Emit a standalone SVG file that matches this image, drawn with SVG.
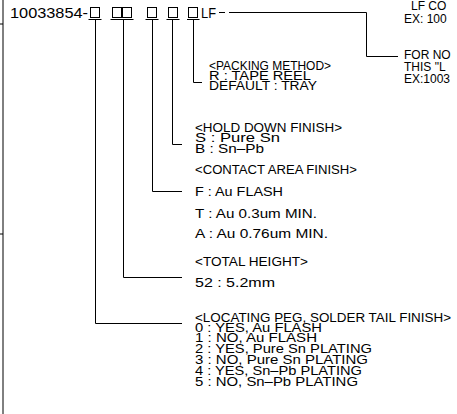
<svg xmlns="http://www.w3.org/2000/svg" width="457" height="414" viewBox="0 0 457 414">
<style>
.t{font-family:"Liberation Sans","DejaVu Sans",sans-serif;font-size:12px;fill:#000}
.big{font-size:14px}
.ln{stroke:#000;stroke-width:1;fill:none}
</style>
<rect width="457" height="414" fill="#fff"/>
<g id="frame">
<path class="ln" d="M3,0V414M0,24H3M0,234H3"/>
</g>
<g id="part-number">
<text class="t big" x="10" y="18" textLength="78" lengthAdjust="spacingAndGlyphs">10033854-</text>
<rect class="ln" x="90.5" y="7.5" width="9" height="10"/>
<rect class="ln" x="112.5" y="7.5" width="9" height="10"/>
<rect class="ln" x="122.5" y="7.5" width="9" height="10"/>
<rect class="ln" x="147.5" y="7.5" width="9" height="10"/>
<rect class="ln" x="168.5" y="7.5" width="9" height="10"/>
<rect class="ln" x="188.5" y="7.5" width="9" height="10"/>
<path class="ln" d="M88.5,19.5H101.5M110.5,19.5H133.5M145.5,19.5H158.5M166.5,19.5H179.5M187,19.5H199.5"/>
<text class="t big" x="201" y="18" textLength="15" lengthAdjust="spacingAndGlyphs">LF</text>
</g>
<g id="connectors">
<path class="ln" d="M219,12.5H225M229,12.5H366.5V56.5H398"/>
<path class="ln" d="M193.5,19.5V82.5H202"/>
<path class="ln" d="M172.5,19.5V144.5H182"/>
<path class="ln" d="M152.5,19.5V191.5H182"/>
<path class="ln" d="M123.5,19.5V277.5H182"/>
<path class="ln" d="M95.5,19.5V323.5H182"/>
</g>
<g id="lf-note">
<text class="t" x="411" y="9.5">LF  CO</text>
<text class="t" x="404" y="22.5">EX: 100</text>
<text class="t" x="404" y="59">FOR NO</text>
<text class="t" x="404" y="71">THIS "L</text>
<text class="t" x="404" y="83">EX:1003</text>
</g>
<g id="packing">
<text class="t" x="209" y="70" textLength="122" lengthAdjust="spacingAndGlyphs">&lt;PACKING METHOD&gt;</text>
<text class="t" x="209" y="80" textLength="102" lengthAdjust="spacingAndGlyphs">R : TAPE REEL</text>
<text class="t" x="209" y="90" textLength="108" lengthAdjust="spacingAndGlyphs">DEFAULT : TRAY</text>
</g>
<g id="hold-down">
<text class="t" x="195" y="132" textLength="147" lengthAdjust="spacingAndGlyphs">&lt;HOLD DOWN FINISH&gt;</text>
<text class="t" x="195" y="142" textLength="85" lengthAdjust="spacingAndGlyphs">S : Pure Sn</text>
<text class="t" x="195" y="153" textLength="69" lengthAdjust="spacingAndGlyphs">B : Sn–Pb</text>
</g>
<g id="contact">
<text class="t" x="195" y="174" textLength="162" lengthAdjust="spacingAndGlyphs">&lt;CONTACT AREA FINISH&gt;</text>
<text class="t" x="195" y="196" textLength="88" lengthAdjust="spacingAndGlyphs">F : Au FLASH</text>
<text class="t" x="195" y="218" textLength="122" lengthAdjust="spacingAndGlyphs">T : Au 0.3um MIN.</text>
<text class="t" x="195" y="238" textLength="133" lengthAdjust="spacingAndGlyphs">A : Au 0.76um MIN.</text>
</g>
<g id="height">
<text class="t" x="195" y="266" textLength="113" lengthAdjust="spacingAndGlyphs">&lt;TOTAL HEIGHT&gt;</text>
<text class="t" x="195" y="287" textLength="80" lengthAdjust="spacingAndGlyphs">52 : 5.2mm</text>
</g>
<g id="locating">
<text class="t" x="195" y="322" textLength="256" lengthAdjust="spacingAndGlyphs">&lt;LOCATING PEG, SOLDER TAIL FINISH&gt;</text>
<text class="t" x="195" y="332" textLength="127" lengthAdjust="spacingAndGlyphs">0 : YES, Au FLASH</text>
<text class="t" x="195" y="342" textLength="122" lengthAdjust="spacingAndGlyphs">1 : NO, Au FLASH</text>
<text class="t" x="195" y="353" textLength="177" lengthAdjust="spacingAndGlyphs">2 : YES, Pure Sn PLATING</text>
<text class="t" x="195" y="364" textLength="173" lengthAdjust="spacingAndGlyphs">3 : NO, Pure Sn PLATING</text>
<text class="t" x="195" y="375" textLength="167" lengthAdjust="spacingAndGlyphs">4 : YES, Sn–Pb PLATING</text>
<text class="t" x="195" y="386" textLength="163" lengthAdjust="spacingAndGlyphs">5 : NO, Sn–Pb PLATING</text>
</g>
</svg>
